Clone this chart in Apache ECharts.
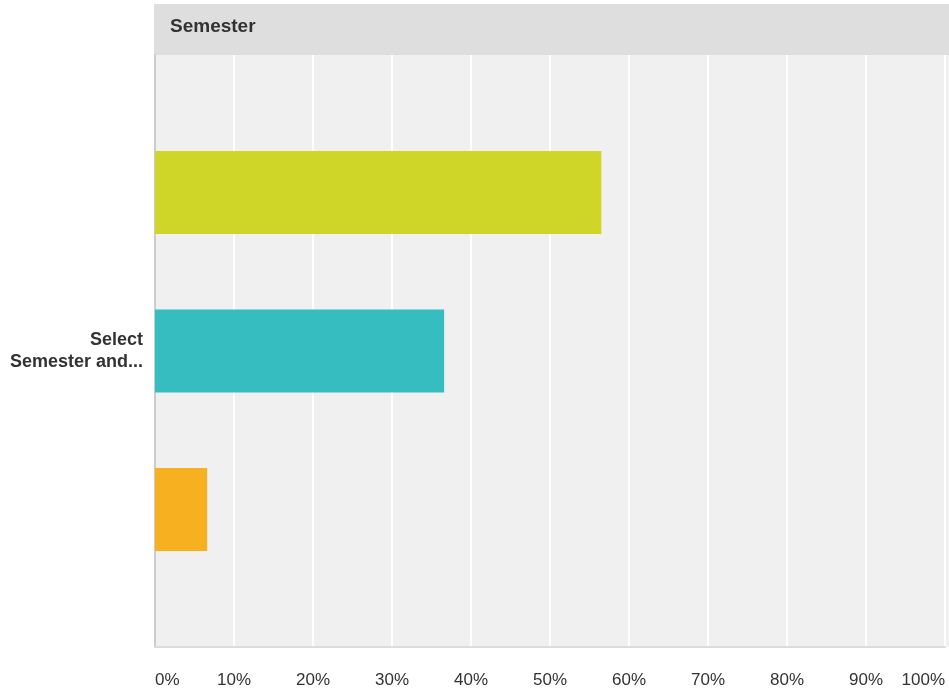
<!DOCTYPE html>
<html>
<head>
<meta charset="utf-8">
<script src="https://cdn.jsdelivr.net/npm/echarts@6/dist/echarts.min.js"></script>
<style>
  html, body { margin: 0; padding: 0; background: #ffffff; }
  #chart { width: 949px; height: 693px; }
</style>
</head>
<body>
<div id="chart"></div>
<script>
// Question answered and the single answer-row label
const questionTitle = 'Semester';
const categories = ['Select\nSemester and...'];

// Share of respondents for each answer choice (percent)
const choiceNames = ['Choice 1', 'Choice 2', 'Choice 3'];
const choiceValues = [56.5, 36.6, 6.6];
const choiceColors = ['#cfd628', '#35bdbf', '#f7b020'];

// Tick labels on the percentage axis
const tickLabels = ['0%', '10%', '20%', '30%', '40%', '50%', '60%', '70%', '80%', '90%', '100%'];

const chart = echarts.init(document.getElementById('chart'), null, { renderer: 'canvas' });
const font = '"Liberation Sans", Arial, Helvetica, sans-serif';

const series = choiceValues.map((v, i) => ({
  name: choiceNames[i],
  type: 'bar',
  data: [v],
  barWidth: 83,
  barGap: '91%',
  itemStyle: { color: choiceColors[i] },
  emphasis: { disabled: true },
  z: 3
}));

chart.setOption({
  animation: false,
  textStyle: { fontFamily: font },
  graphic: [
    // Header band behind the question title
    { type: 'rect', shape: { x: 154, y: 4, width: 795, height: 51 }, style: { fill: '#dedede' }, z: -10, silent: true },
    // Plot background
    { type: 'rect', shape: { x: 155, y: 55, width: 794, height: 592 }, style: { fill: '#f0f0f0' }, z: -10, silent: true },
    { type: 'text', left: 170, top: 17, style: { text: questionTitle, font: 'bold 19px ' + font, fill: '#333333' }, z: 10, silent: true }
  ],
  grid: { left: 155, top: 55, right: 4, bottom: 46, containLabel: false },
  xAxis: {
    type: 'value',
    min: 0,
    max: 100,
    interval: 10,
    axisLine: { show: true, onZero: false, lineStyle: { color: '#dcdcdc', width: 2 } },
    axisTick: { show: false },
    splitLine: { show: true, lineStyle: { color: '#ffffff', width: 2 } },
    axisLabel: {
      margin: 25,
      fontSize: 17,
      color: '#333333',
      alignMinLabel: 'left',
      alignMaxLabel: 'right',
      formatter: (v) => tickLabels[Math.round(v / 10)]
    }
  },
  yAxis: {
    type: 'category',
    inverse: true,
    data: categories,
    axisLine: { show: true, lineStyle: { color: '#cccccc', width: 2 } },
    axisTick: { show: false },
    axisLabel: {
      margin: 12,
      fontSize: 18,
      fontWeight: 'bold',
      color: '#333333',
      align: 'right',
      lineHeight: 22
    }
  },
  series: series
});
</script>
</body>
</html>
